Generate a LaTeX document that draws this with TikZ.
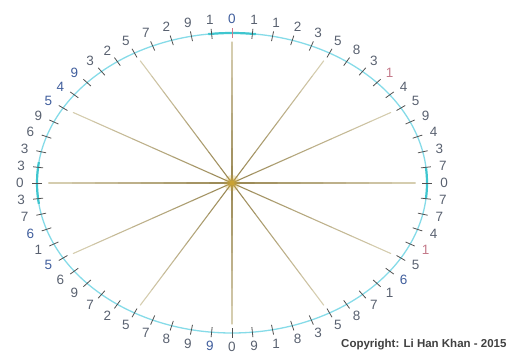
\documentclass[tikz,border=0pt]{standalone}
\usepackage{fontspec}
\setmainfont{Liberation Sans}
\usetikzlibrary{calc}
\definecolor{ringLine}{HTML}{86dbe8}
\definecolor{ringAxis}{HTML}{3fc6cf}
\definecolor{tickColor}{HTML}{505050}
\definecolor{tickRose}{HTML}{d07a8a}
\definecolor{spokeDark}{HTML}{9c8b58}
\definecolor{spokeLight}{HTML}{e0d9c0}
\definecolor{hubColor}{HTML}{c9a234}
\definecolor{dg}{HTML}{596170}
\definecolor{db}{HTML}{3f5d9c}
\definecolor{dr}{HTML}{c47a8a}

\begin{document}
\begin{tikzpicture}[
  x=1pt, y=-1pt,
  ring/.style     ={draw=ringLine, line width=1.3pt},
  ringaxis/.style ={draw=ringAxis, line width=2.2pt},
  tickmark/.style ={draw=tickColor, line width=0.8pt},
  spoke/.style    ={line width=1.1pt},
  digit/.style    ={font=\fontsize{13.5}{14}\selectfont, inner sep=0pt},
  note/.style     ={font=\fontsize{11.5}{12}\selectfont\bfseries, text=black!75, inner sep=0pt},
]
\useasboundingbox (0,0) rectangle (509,358);

% ==================== ring ====================
\def\cx{232}
\def\cy{183}
\def\rx{195}
\def\ry{150}
\coordinate (hub) at (\cx,\cy);

\draw[ring] (hub) ellipse [x radius=\rx, y radius=\ry];
% brighter pieces at top, left and right
\draw[ringaxis] plot[domain=83:97, samples=12]   ({\cx+\rx*cos(\x)},{\cy-\ry*sin(\x)});
\draw[ringaxis] plot[domain=-6:6, samples=12]    ({\cx+\rx*cos(\x)},{\cy-\ry*sin(\x)});
\draw[ringaxis] plot[domain=172:188, samples=12] ({\cx+\rx*cos(\x)},{\cy-\ry*sin(\x)});

% ==================== spokes (every 5th mark), fading outwards ====================
\foreach \k in {0,5,...,55} {
  \coordinate (s\k) at ({\cx+0.94*\rx*cos(90-6*\k)},{\cy-0.94*\ry*sin(90-6*\k)});
  \foreach \j in {0,...,7} {
    \pgfmathsetmacro\p{100-12*\j}
    \draw[spoke, draw=spokeDark!\p!spokeLight, line cap=round]
      ($(hub)!\j/8!(s\k)$) -- ($(hub)!{(\j+1)/8}!(s\k)$);
  }
}
% glow in the middle
\fill[hubColor, opacity=0.25] (hub) circle (8);
\fill[hubColor, opacity=0.5]  (hub) circle (5);
\fill[hubColor]               (hub) circle (2.5);

% ==================== marks and digits (Fibonacci mod 10) ====================
\foreach \d/\c [count=\k from 0] in {
  0/db,1/dg,1/dg,2/dg,3/dg,5/dg,8/dg,3/dg,1/dr,4/dg,
  5/dg,9/dg,4/dg,3/dg,7/dg,0/dg,7/dg,7/dg,4/dg,1/dr,
  5/dg,6/db,1/dg,7/dg,8/dg,5/dg,3/dg,8/dg,1/dg,9/dg,
  0/dg,9/db,9/dg,8/dg,7/dg,5/dg,2/dg,7/dg,9/dg,6/dg,
  5/db,1/dg,6/db,7/dg,3/dg,0/dg,3/dg,3/dg,6/dg,9/dg,
  5/db,4/db,9/db,3/dg,2/dg,5/dg,7/dg,2/dg,9/dg,1/dg} {
  \pgfmathsetmacro\t{90-6*\k}
  \coordinate (a\k) at ({\cx+(\rx-5)*cos(\t)},{\cy-(\ry-5)*sin(\t)});
  \coordinate (b\k) at ({\cx+(\rx+5)*cos(\t)},{\cy-(\ry+5)*sin(\t)});
  \draw[tickmark] (a\k) -- (b\k);
  \node[digit, text=\c] (d\k) at ({\cx+(\rx+17)*cos(\t)},{\cy-(\ry+14)*sin(\t)}) {\d};
}
\draw[tickmark, draw=tickRose] (a0) -- (b0);

\node[note, anchor=west] (copy) at (341,345) {Copyright: Li Han Khan - 2015};

\end{tikzpicture}
\end{document}
